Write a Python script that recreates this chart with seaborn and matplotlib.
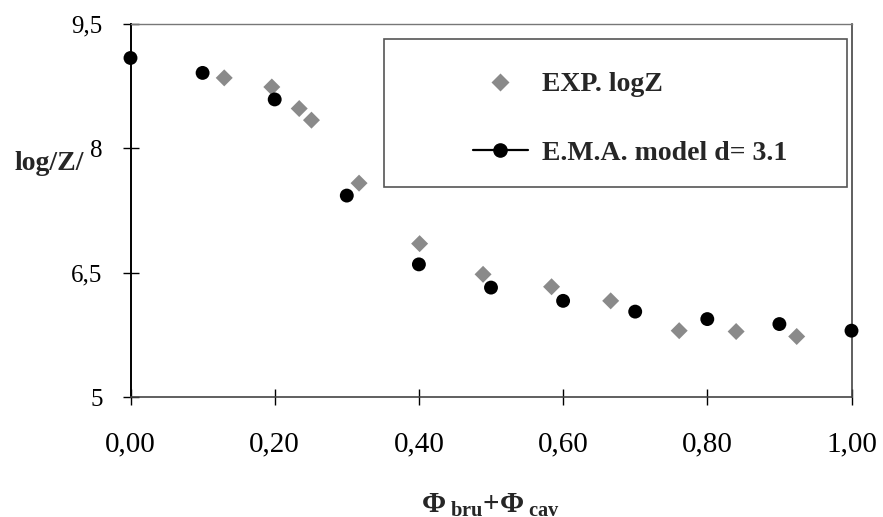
import matplotlib
matplotlib.use("Agg")
import matplotlib.pyplot as plt
import seaborn as sns
import pandas as pd
from matplotlib.lines import Line2D
from matplotlib.patches import Rectangle

# ---- data ----
exp_x = [0.13, 0.196, 0.234, 0.251, 0.317, 0.401, 0.489, 0.584, 0.666, 0.761, 0.84, 0.924]
exp_y = [8.85, 8.74, 8.48, 8.34, 7.58, 6.85, 6.48, 6.33, 6.16, 5.80, 5.79, 5.73]
ema_x = [0.0, 0.1, 0.2, 0.3, 0.4, 0.5, 0.6, 0.7, 0.8, 0.9, 1.0]
ema_y = [9.09, 8.91, 8.59, 7.43, 6.60, 6.32, 6.16, 6.03, 5.94, 5.88, 5.80]
x_ticks = [0.0, 0.2, 0.4, 0.6, 0.8, 1.0]
x_tick_labels = ["0,00", "0,20", "0,40", "0,60", "0,80", "1,00"]
y_ticks = [5, 6.5, 8, 9.5]
y_tick_labels = ["5", "6,5", "8", "9,5"]
series_labels = ["EXP. logZ", "E.M.A. model d= 3.1"]
x_label = r"$\mathbf{\Phi}_{\mathbf{\ bru}}\mathbf{+\Phi}_{\mathbf{\ cav}}$"
y_label = "log/Z/"

exp_df = pd.DataFrame({"x": exp_x, "y": exp_y})
ema_df = pd.DataFrame({"x": ema_x, "y": ema_y})

sns.set_style("white")
plt.rcParams["font.family"] = ["Liberation Serif", "DejaVu Serif"]
plt.rcParams["mathtext.fontset"] = "custom"
plt.rcParams["mathtext.rm"] = "Liberation Serif"
plt.rcParams["mathtext.bf"] = "Liberation Serif:bold"
plt.rcParams["mathtext.it"] = "Liberation Serif:italic"

W, H = 883, 517
fig = plt.figure(figsize=(W / 100, H / 100), dpi=100)
ax = fig.add_axes([130.5 / W, 1 - 397 / H, 721 / W, 373 / H])

gray = "#8a8a8a"
sns.scatterplot(data=exp_df, x="x", y="y", marker="D", s=75, color=gray,
                edgecolor="none", ax=ax, legend=False, clip_on=False, zorder=3)
sns.scatterplot(data=ema_df, x="x", y="y", marker="o", s=100, color="black",
                edgecolor="none", ax=ax, legend=False, clip_on=False, zorder=4)

ax.set_xlim(0, 1)
ax.set_ylim(5, 9.5)
ax.set_xticks(x_ticks)
ax.set_xticklabels(x_tick_labels)
ax.set_yticks(y_ticks)
ax.set_yticklabels(y_tick_labels)
ax.tick_params(axis="x", direction="inout", length=12, width=1, colors="black",
               labelsize=21, pad=19)
ax.tick_params(axis="y", direction="inout", length=12, width=1, colors="black",
               labelsize=18, pad=14)
ax.tick_params(which="both", bottom=True, left=True)

for side, sp in ax.spines.items():
    sp.set_visible(True)
ax.spines["left"].set_color("black")
ax.spines["left"].set_linewidth(1.4)
ax.spines["bottom"].set_color("#444444")
ax.spines["bottom"].set_linewidth(1.2)
ax.spines["top"].set_color("#777777")
ax.spines["top"].set_linewidth(1.0)
ax.spines["right"].set_color("#444444")
ax.spines["right"].set_linewidth(1.2)

ax.set_xlabel(x_label, fontsize=21)
ax.xaxis.set_label_coords(0.5, (397 - 505) / 373)
ax.xaxis.label.set_va("center")
ax.set_ylabel(y_label, fontsize=20, fontweight="bold", rotation=0)
ax.yaxis.set_label_coords((49 - 130.5) / 721, (397 - 164) / 373)
ax.yaxis.label.set_va("center")
ax.yaxis.label.set_ha("center")

# legend box
fig.patches.append(Rectangle((384 / W, 1 - 187 / H), (847 - 384) / W, 148 / H,
                             transform=fig.transFigure, fill=False,
                             edgecolor="#555555", linewidth=1.2))
handles = [
    Line2D([], [], linestyle="none", marker="D", markersize=8.7, color=gray,
           markeredgecolor="none"),
    Line2D([], [], linestyle="-", linewidth=1.6, marker="o", markersize=9.5,
           color="black"),
]
fig.legend(handles, series_labels, loc="center left",
           bbox_to_anchor=(473 / W, 1 - 119 / H), frameon=False,
           prop={"family": "Liberation Serif", "weight": "bold", "size": 20},
           handlelength=1.97, handletextpad=0.5, labelspacing=1.55,
           borderpad=0, borderaxespad=0)

fig.savefig("out.png", dpi=100)
